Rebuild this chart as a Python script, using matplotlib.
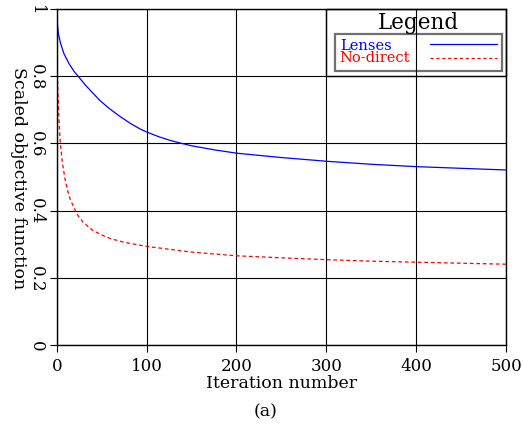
import numpy as np
import matplotlib
matplotlib.use("Agg")
from matplotlib import pyplot as plt
from matplotlib.patches import Rectangle

# values
lens_iter = [0, 0.7, 1.8, 4.4, 8.1, 13.7, 19.3, 23.7, 32.3, 48.2, 59.3, 70.5,
             81.6, 92.7, 100, 113.4, 125, 136, 150, 175, 200, 250, 300, 350,
             400, 450, 500]
lens_obj = [1.0, 0.955, 0.926, 0.896, 0.866, 0.837, 0.814, 0.80, 0.772,
            0.727, 0.702, 0.68, 0.66, 0.643, 0.634, 0.62, 0.61, 0.602,
            0.593, 0.581, 0.571, 0.558, 0.547, 0.538, 0.531, 0.526, 0.521]

nodir_iter = [0, 0.3, 0.7, 1.8, 2.8, 4, 6.2, 9.2, 12.6, 15.2, 18.2, 20.8,
              24.5, 29.3, 34.8, 40.4, 47.8, 53.4, 60, 75, 100, 150, 200, 250,
              300, 350, 400, 450, 500]
nodir_obj = [1.0, 0.9, 0.80, 0.717, 0.655, 0.60, 0.544, 0.494, 0.455, 0.432,
             0.415, 0.40, 0.382, 0.366, 0.353, 0.341, 0.331, 0.324, 0.317,
             0.306, 0.294, 0.277, 0.266, 0.26, 0.2545, 0.25, 0.247, 0.244,
             0.241]

xticks = [0, 100, 200, 300, 400, 500]
yticks = [0, 0.2, 0.4, 0.6, 0.8, 1.0]
ytick_labels = ["0", "0.2", "0.4", "0.6", "0.8", "1"]

plt.rcParams['font.family'] = 'DejaVu Serif'

fig = plt.figure(figsize=(5.23, 4.27), dpi=100)
ax = fig.add_axes([0.1085, 0.189, 0.859, 0.788])

ax.plot(lens_iter, lens_obj, color='blue', lw=0.9)
l2, = ax.plot(nodir_iter, nodir_obj, color='red', lw=0.9)
l2.set_dashes([3, 2.2])

ax.set_xlim(0, 500)
ax.set_ylim(0, 1)
ax.set_xticks(xticks)
ax.set_yticks(yticks)
ax.set_yticklabels(ytick_labels, rotation=-90, va='center')
ax.tick_params(direction='out', length=5, width=0.8, labelsize=12, pad=3.5)
ax.grid(True, color='black', lw=0.8)
for s in ax.spines.values():
    s.set_linewidth(1.0)

ax.set_xlabel("Iteration number", fontsize=12.5, labelpad=0)
ax.set_ylabel("Scaled objective function", fontsize=12.5, rotation=-90,
              va='center', ha='center')
ax.yaxis.set_label_coords(-0.086, 0.5)

# hand-made legend, like the original
ax.add_patch(Rectangle((300, 0.8), 200, 0.2, fill=False, ec='black', lw=1,
                       clip_on=False))
ax.add_patch(Rectangle((309.7, 0.815), 185.8, 0.11, fill=False, ec='#707070',
                       lw=1.6, clip_on=False))
ax.text(402, 0.962, "Legend", fontsize=15.5, ha='center', va='center')
ax.text(315, 0.893, "Lenses", color='blue', fontsize=10.5, va='center')
ax.text(315, 0.856, "No-direct", color='red', fontsize=10.5, va='center')
ax.plot([415, 490], [0.895, 0.895], color='blue', lw=0.9)
ld, = ax.plot([415, 490], [0.855, 0.855], color='red', lw=0.9)
ld.set_dashes([2.5, 2.2])

fig.text(266 / 523, 1 - 412 / 427, "(a)", fontsize=12.5, ha='center',
         va='center')

fig.savefig("out.png", dpi=100)
